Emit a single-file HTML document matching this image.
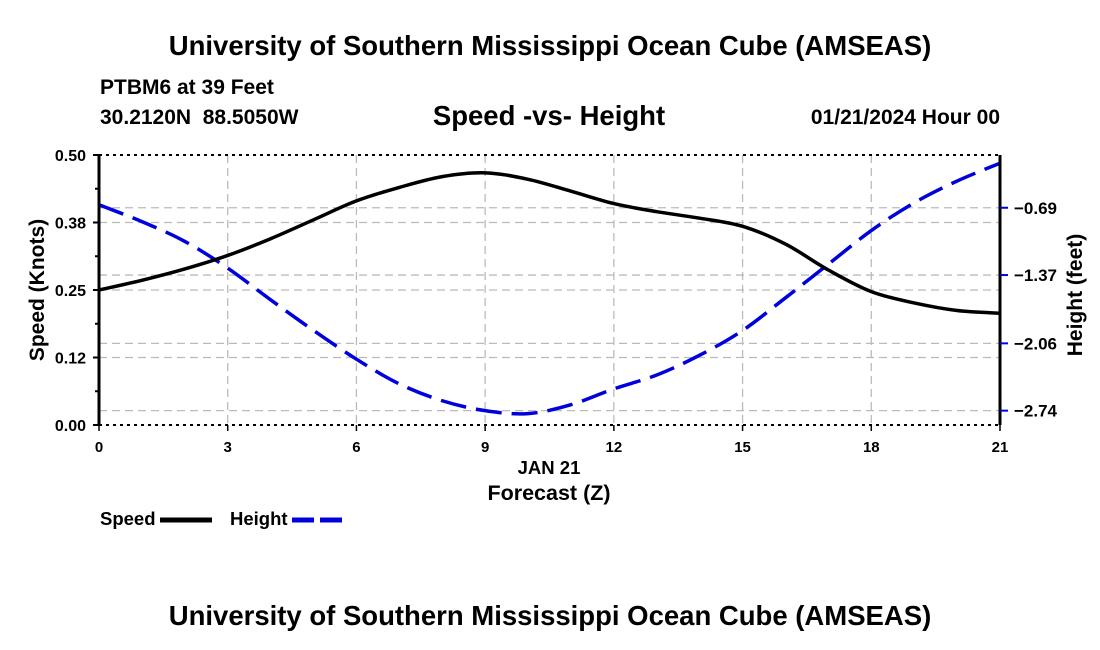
<!DOCTYPE html>
<html><head><meta charset="utf-8"><style>
body{margin:0;background:#fff;}
svg{display:block;font-family:"Liberation Sans",Arial,sans-serif;font-weight:bold;}
</style></head><body>
<svg id="c" width="1100" height="650">
<text x="550" y="55" text-anchor="middle" font-size="27.5">University of Southern Mississippi Ocean Cube (AMSEAS)</text>
<text x="100" y="94" font-size="21">PTBM6 at 39 Feet</text>
<text x="100" y="124" font-size="21" xml:space="preserve">30.2120N  88.5050W</text>
<text x="549" y="125" text-anchor="middle" font-size="27.5">Speed -vs- Height</text>
<text x="1000" y="124" text-anchor="end" font-size="21">01/21/2024 Hour 00</text>
<g id="grid"></g><g id="marks"></g><g id="axes"></g>
<text x="549" y="474" text-anchor="middle" font-size="18.5">JAN 21</text>
<text x="549" y="500" text-anchor="middle" font-size="21.5">Forecast (Z)</text>
<text transform="translate(44,290) rotate(-90)" text-anchor="middle" font-size="21">Speed (Knots)</text>
<text transform="translate(1082,295) rotate(-90)" text-anchor="middle" font-size="21">Height (feet)</text>
<g>
<text x="100" y="525" font-size="18.5">Speed</text>
<line x1="160" y1="520" x2="212" y2="520" stroke="#000" stroke-width="5"/>
<text x="230" y="525" font-size="18.5">Height</text>
<line x1="292" y1="520" x2="342" y2="520" stroke="#0000dd" stroke-width="5" stroke-dasharray="22,6"/>
</g>
<text x="550" y="625" text-anchor="middle" font-size="27.5">University of Southern Mississippi Ocean Cube (AMSEAS)</text>
</svg>
<script>
const hours=[0,1,2,3,4,5,6,7,8,9,10,11,12,13,14,15,16,17,18,19,20,21];
const speed=[0.25,0.268,0.289,0.314,0.345,0.38,0.415,0.44,0.46,0.467,0.455,0.433,0.41,0.395,0.383,0.368,0.335,0.287,0.247,0.226,0.212,0.207];
const height=[-0.66,-0.83,-1.03,-1.30,-1.62,-1.93,-2.22,-2.47,-2.64,-2.74,-2.77,-2.68,-2.52,-2.38,-2.18,-1.93,-1.60,-1.26,-0.92,-0.64,-0.42,-0.24];
const xTicks=[0,3,6,9,12,15,18,21];
const leftTicks=[0,0.125,0.25,0.375,0.5];
const leftLabels=["0.00","0.12","0.25","0.38","0.50"];
const rightTicks=[-0.69,-1.37,-2.06,-2.74];
const rightLabels=["\u22120.69","\u22121.37","\u22122.06","\u22122.74"];
const X0=99,X1=1000,Y0=425,Y1=155;
const xs=h=>X0+(h-0)/21*(X1-X0);
const ys=v=>Y0-(v/0.5)*(Y0-Y1);
const HT=-0.157,HB=-2.885;
const yh=v=>Y1+(HT-v)/(HT-HB)*(Y0-Y1);
const NS="http://www.w3.org/2000/svg";
function mk(t,a,p){const e=document.createElementNS(NS,t);for(const k in a)e.setAttribute(k,a[k]);p.appendChild(e);return e;}
const grid=document.getElementById('grid'),marks=document.getElementById('marks'),axes=document.getElementById('axes');
const gs={stroke:"#bbb","stroke-width":1.3,"stroke-dasharray":"8,5"};
xTicks.forEach(t=>{if(t>0&&t<21){const l=mk('line',Object.assign({x1:xs(t),x2:xs(t),y1:Y1,y2:Y0},gs),grid);

}});
leftTicks.forEach(t=>{if(t>0&&t<0.5){const l=mk('line',Object.assign({x1:X0,x2:X1,y1:ys(t),y2:ys(t)},gs),grid);

}});
rightTicks.forEach(t=>{const l=mk('line',Object.assign({x1:X0,x2:X1,y1:yh(t),y2:yh(t)},gs),grid);

});
function path(f,arr){const p=hours.map((h,i)=>[xs(h),f(arr[i])]);let d=`M${p[0][0]},${p[0][1]}`;
for(let i=0;i<p.length-1;i++){const a=p[Math.max(0,i-1)],b=p[i],c=p[i+1],e=p[Math.min(p.length-1,i+2)];
d+=` C${b[0]+(c[0]-a[0])/6},${b[1]+(c[1]-a[1])/6} ${c[0]-(e[0]-b[0])/6},${c[1]-(e[1]-b[1])/6} ${c[0]},${c[1]}`;}return d;}
const hl=mk('path',{d:path(yh,height),fill:"none",stroke:"#0000dd","stroke-width":3.5,"stroke-dasharray":"26,10"},marks);


const sl=mk('path',{d:path(ys,speed),fill:"none",stroke:"#000","stroke-width":3.5},marks);


[[X0,Y1,X1,Y1,'top-axis'],[X0,Y0,X1,Y0,'bottom-axis']].forEach(a=>{const l=mk('line',{x1:a[0],y1:a[1],x2:a[2],y2:a[3],stroke:"#000","stroke-width":2,"stroke-dasharray":"3,4"},axes);

});
const la=mk('line',{x1:X0,y1:Y1,x2:X0,y2:Y0,stroke:"#000","stroke-width":3},axes);


const ra=mk('line',{x1:X1,y1:Y1,x2:X1,y2:Y0,stroke:"#000","stroke-width":3},axes);


leftTicks.forEach((t,i)=>{mk('line',{x1:X0-6,x2:X0,y1:ys(t),y2:ys(t),stroke:"#000","stroke-width":2},axes);
const tx=mk('text',{x:X0-13,y:ys(t)+6,"text-anchor":"end","font-size":16},axes);tx.textContent=leftLabels[i];


if(i<4)mk('line',{x1:X0-4,x2:X0,y1:ys(t+0.0625),y2:ys(t+0.0625),stroke:"#000","stroke-width":2},axes);});
rightTicks.forEach((t,i)=>{mk('line',{x1:X1,x2:X1+8,y1:yh(t),y2:yh(t),stroke:"#0000dd","stroke-width":2},axes);
const tx=mk('text',{x:X1+14,y:yh(t)+6,"font-size":17},axes);tx.textContent=rightLabels[i];

});
xTicks.forEach(t=>{mk('line',{x1:xs(t),x2:xs(t),y1:Y0,y2:Y0+6,stroke:"#000","stroke-width":1.5},axes);
const tx=mk('text',{x:xs(t),y:452,"text-anchor":"middle","font-size":15},axes);tx.textContent=t;

});
</script>
</body></html>
